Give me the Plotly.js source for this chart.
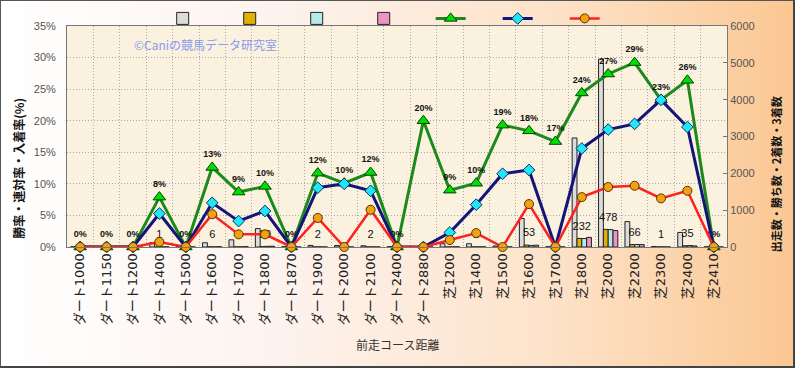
<!DOCTYPE html>
<html><head><meta charset="utf-8">
<script src="https://cdn.plot.ly/plotly-3.0.1.min.js"></script>
<style>
body{margin:0;}
#wrap{position:relative;width:795px;height:368px;background:linear-gradient(90deg,#ffffff 0%,#fdf3ee 35%,#fde2c8 70%,#fbc792 100%);overflow:hidden;}
#plot{position:absolute;left:0;top:0;width:795px;height:368px;}
#frame{position:absolute;left:0;top:0;width:795px;height:368px;box-sizing:border-box;border:1px solid #555;border-right:2px solid #444;border-bottom:2px solid #444;pointer-events:none;}
</style></head>
<body><div id="wrap"><div id="plot"></div><div id="frame"></div></div>
<script>
const categories = ['ダート1000','ダート1150','ダート1200','ダート1400','ダート1500','ダート1600','ダート1700','ダート1800','ダート1870','ダート1900','ダート2000','ダート2100','ダート2400','ダート2880','芝1200','芝1400','芝1500','芝1600','芝1700','芝1800','芝2000','芝2200','芝2300','芝2400','芝2410'];
// counts (right axis)
const runs   = [5,3,20,120,10,115,195,500,8,43,40,34,10,5,88,89,26,775,6,2960,5100,690,13,395,5];
const wins   = [0,0,0,1,0,6,4,10,0,2,0,2,0,0,1,2,0,53,0,232,478,66,1,35,0];
const second = [0,0,0,5,0,2,4,18,0,2,4,1,0,0,1,4,3,42,0,230,473,67,2,40,0];
const third  = [0,0,0,3,0,6,9,20,0,1,0,1,0,1,6,3,2,48,1,260,446,66,0,29,0];
// rates in % (left axis)
const winRate   = [0,0,0,0.8,0,5.2,2.0,2.0,0,4.6,0,5.9,0,0,1.1,2.2,0,6.8,0,7.9,9.5,9.7,7.7,8.9,0];
const quinRate  = [0,0,0,5.3,0,7.0,4.1,5.7,0,9.4,10.0,8.9,0,0,2.3,6.7,11.6,12.2,0,15.6,18.6,19.5,23.3,19.0,0];
const placeRate = [0,0,0,7.9,0,12.6,8.7,9.6,0,11.7,10.1,11.8,0,20.0,9.0,10.1,19.3,18.4,16.7,24.4,27.4,29.2,23.3,26.4,0];

const winLabels = wins.map(v => v > 0 ? String(v) : '');
const jp = 'DejaVu Sans, Noto Sans CJK JP, sans-serif';

function barTrace(vals, color){
  return {type:'bar', x:categories, y:vals, yaxis:'y', name:'',
    marker:{color:color, line:{color:'#222', width:1}}, hoverinfo:'skip'};
}
const traces = [
  barTrace(runs, '#dcdcdc'),
  barTrace(wins, '#e2b000'),
  barTrace(second, '#b5eaea'),
  barTrace(third, '#ee93c3'),
  {type:'scatter', mode:'markers+text', x:categories, y:wins, yaxis:'y', text:winLabels,
   marker:{size:8, opacity:0},
   textposition:'top center', textfont:{family:'Liberation Sans, sans-serif', size:11, color:'#111'},
   showlegend:false, hoverinfo:'skip', cliponaxis:false},
  {type:'scatter', mode:'lines+markers+text', x:categories, y:placeRate, yaxis:'y2', name:'',
   line:{color:'#1b8a1b', width:3},
   marker:{symbol:'triangle-up', size:11, color:'#00dd00', line:{color:'#004400', width:1}},
   texttemplate:'%{y:.0f}%', textposition:'top center',
   textfont:{family:'Liberation Sans, sans-serif', size:9, color:'#111', weight:'bold'}, cliponaxis:false},
  {type:'scatter', mode:'lines+markers', x:categories, y:quinRate, yaxis:'y2', name:'',
   line:{color:'#14147a', width:3},
   marker:{symbol:'diamond', size:9, color:'#22e5f5', line:{color:'#003366', width:1}}, cliponaxis:false},
  {type:'scatter', mode:'lines+markers', x:categories, y:winRate, yaxis:'y2', name:'',
   line:{color:'#ff2020', width:2.5},
   marker:{symbol:'circle', size:9, color:'#f5a010', line:{color:'#553300', width:1}}, cliponaxis:false}
];

const layout = {
  width:795, height:368,
  margin:{l:67, r:68, t:26, b:121, pad:0, autoexpand:false},
  paper_bgcolor:'rgba(0,0,0,0)',
  plot_bgcolor:'#faf2de',
  showlegend:true,
  legend:{orientation:'h', x:0.145, xanchor:'left', y:1.1, yanchor:'top', entrywidth:22,
          bgcolor:'rgba(0,0,0,0)', font:{size:10}, traceorder:'normal'},
  barmode:'group', bargap:0.27, bargroupgap:0,
  font:{family:jp},
  xaxis:{type:'category', range:[-0.5, 24.5], tickson:'boundaries', showgrid:true, gridcolor:'#aaaaaa', griddash:'1px,2px', gridwidth:1,
         tickangle:-90, ticks:'outside', ticklen:7, tickcolor:'rgba(0,0,0,0)',
         tickfont:{family:jp, size:13, color:'#222'}, automargin:false,
         showline:true, linecolor:'#777', mirror:true},
  yaxis:{side:'right', range:[0,6000], dtick:1000, showgrid:false, zeroline:false,
         ticks:'inside', ticklen:4, tickcolor:'#777', automargin:false,
         tickfont:{family:'Liberation Sans, sans-serif', size:11, color:'#555'},
         showline:true, linecolor:'#777'},
  yaxis2:{overlaying:'y', side:'left', range:[0,35], dtick:5, ticksuffix:'%',
          showgrid:true, gridcolor:'#aaaaaa', griddash:'1px,2px', gridwidth:1, zeroline:false,
          ticks:'outside', ticklen:8, tickcolor:'rgba(0,0,0,0)', automargin:false,
          tickfont:{family:'Liberation Sans, sans-serif', size:11, color:'#555'},
          showline:true, linecolor:'#777'},
  annotations:[
    {text:'©Caniの競馬データ研究室', xref:'paper', yref:'paper', x:0.21, y:0.916, xanchor:'center', yanchor:'middle', showarrow:false,
     font:{family:'Noto Sans CJK JP', size:12, color:'#8a98f0'}},
    {text:'前走コース距離', xref:'paper', yref:'paper', x:0.5, y:-0.441, xanchor:'center', yanchor:'middle', showarrow:false,
     font:{family:'Noto Sans CJK JP', size:12, color:'#333'}},
    {text:'勝率・連対率・入着率(%)', xref:'paper', yref:'paper', x:-0.074, y:0.355, xanchor:'center', yanchor:'middle', textangle:-90, showarrow:false,
     font:{family:'Noto Sans CJK JP', size:12, color:'#111', weight:'bold'}},
    {text:'出走数・勝ち数・2着数・3着数', xref:'paper', yref:'paper', x:1.074, y:0.328, xanchor:'center', yanchor:'middle', textangle:-90, showarrow:false,
     font:{family:'Noto Sans CJK JP', size:11, color:'#111', weight:'bold'}}
  ]
};
Plotly.newPlot('plot', traces, layout, {displayModeBar:false, staticPlot:true});
</script>
</body></html>
